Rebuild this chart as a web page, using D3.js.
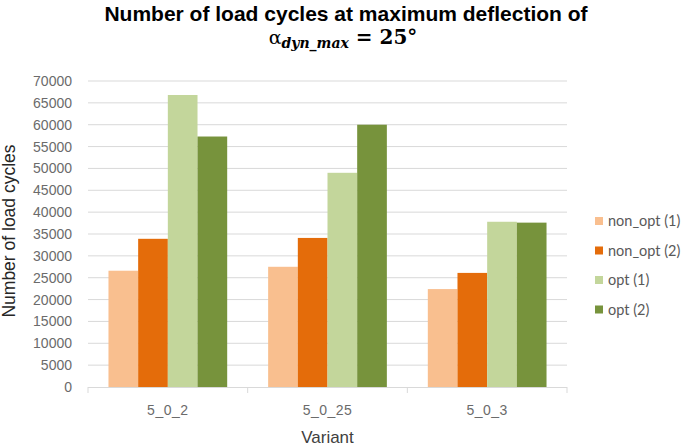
<!DOCTYPE html>
<html>
<head>
<meta charset="utf-8">
<script src="https://cdn.jsdelivr.net/npm/d3@7"></script>
<style>
  body { margin: 0; background: #fff; }
  svg { display: block; }
</style>
</head>
<body>
<svg width="685" height="447"></svg>
<script>
var variants = ["5_0_2", "5_0_25", "5_0_3"];
var seriesNames = ["non_opt (1)", "non_opt (2)", "opt (1)", "opt (2)"];
var nonOpt1 = [26600, 27500, 22400];
var nonOpt2 = [33900, 34100, 26100];
var opt1 = [66800, 49000, 37800];
var opt2 = [57300, 60000, 37600];
var yTicks = d3.range(0, 70001, 5000);
var colors = ["#F9BF8F", "#E46C0A", "#C3D69B", "#77933C"];

var svg = d3.select("svg");
var margin = {left: 88, right: 118, top: 81, bottom: 60};
var width = 685 - margin.left - margin.right,
    height = 447 - margin.top - margin.bottom;

var seriesValues = [nonOpt1, nonOpt2, opt1, opt2];

var x = d3.scaleBand().domain(variants).range([0, width]).paddingInner(0).paddingOuter(0);
var xs = d3.scaleBand().domain(seriesNames).range([0, x.bandwidth()]).paddingOuter(0.69).paddingInner(0);
var y = d3.scaleLinear().domain([0, 70000]).range([height, 0]);

var g = svg.append("g").attr("transform", "translate(" + margin.left + "," + margin.top + ")");

// gridlines
g.selectAll(".grid").data(yTicks.slice(1)).enter().append("line")
    .attr("x1", 0).attr("x2", width)
    .attr("y1", function(d) { return y(d); }).attr("y2", function(d) { return y(d); })
    .attr("stroke", "#d9d9d9").attr("stroke-width", 1);

// y tick labels
g.selectAll(".ylab").data(yTicks).enter().append("text")
    .attr("x", -16).attr("y", function(d) { return y(d) + 5; })
    .attr("text-anchor", "end")
    .attr("font-family", "Liberation Sans, Arial, sans-serif")
    .attr("font-size", "14px").attr("fill", "#6b6b6b")
    .text(function(d) { return d; });

// bars
var groups = g.selectAll(".grp").data(variants).enter().append("g")
    .attr("transform", function(d) { return "translate(" + x(d) + ",0)"; });

groups.selectAll("rect").data(function(d, i) {
    return seriesNames.map(function(s, j) { return {s: s, v: seriesValues[j][i], c: colors[j]}; });
  }).enter().append("rect")
    .attr("x", function(d) { return xs(d.s); })
    .attr("width", xs.bandwidth())
    .attr("y", function(d) { return y(d.v); })
    .attr("height", function(d) { return height - y(d.v); })
    .attr("fill", function(d) { return d.c; });

// x axis
var xAxis = g.append("g").attr("transform", "translate(0," + height + ")");
xAxis.append("line").attr("x1", 0).attr("x2", width).attr("y1", 0.5).attr("y2", 0.5)
    .attr("stroke", "#d9d9d9");
xAxis.selectAll(".tk").data(d3.range(variants.length + 1)).enter().append("line")
    .attr("x1", function(d) { return d * x.step(); }).attr("x2", function(d) { return d * x.step(); })
    .attr("y1", 0).attr("y2", 6).attr("stroke", "#d9d9d9");
xAxis.selectAll(".xlab").data(variants).enter().append("text")
    .attr("x", function(d) { return x(d) + x.bandwidth() / 2; })
    .attr("y", 28)
    .attr("text-anchor", "middle")
    .attr("font-family", "Liberation Sans, Arial, sans-serif")
    .attr("font-size", "14px").attr("fill", "#6b6b6b")
    .attr("letter-spacing", "0.5px")
    .text(function(d) { return d; });

// axis titles
svg.append("text")
    .attr("x", margin.left + width / 2).attr("y", 443)
    .attr("text-anchor", "middle")
    .attr("font-family", "Liberation Sans, Arial, sans-serif")
    .attr("font-size", "17px").attr("fill", "#404040")
    .text("Variant");

svg.append("text")
    .attr("transform", "translate(15," + (margin.top + height / 2 - 3) + ") rotate(-90)")
    .attr("text-anchor", "middle")
    .attr("font-family", "Liberation Sans, Arial, sans-serif")
    .attr("font-size", "17.5px").attr("fill", "#262626")
    .text("Number of load cycles");

// title
svg.append("text")
    .attr("x", 346).attr("y", 21)
    .attr("text-anchor", "middle")
    .attr("font-family", "Liberation Sans, Arial, sans-serif")
    .attr("font-size", "21px").attr("font-weight", "bold").attr("fill", "#000")
    .text("Number of load cycles at maximum deflection of");

var math = svg.append("text")
    .attr("x", 343).attr("y", 44)
    .attr("text-anchor", "middle")
    .attr("font-family", "DejaVu Serif, serif")
    .attr("fill", "#000");
math.append("tspan").attr("font-size", "19px").text("α");
math.append("tspan").attr("font-size", "14px").attr("font-style", "italic").attr("font-weight", "bold")
    .attr("dy", 4).text("dyn_max");
math.append("tspan").attr("font-size", "20px").attr("font-weight", "bold").attr("dy", -4).text(" = 25°");

// legend
var legend = svg.selectAll(".leg").data(seriesNames).enter().append("g")
    .attr("transform", function(d, i) { return "translate(595," + (217 + i * 29.5) + ")"; });
legend.append("rect").attr("width", 8).attr("height", 8)
    .attr("fill", function(d, i) { return colors[i]; });
legend.append("text").attr("x", 13).attr("y", 9)
    .attr("font-family", "Lato, Liberation Sans, sans-serif")
    .attr("font-size", "14.5px").attr("fill", "#595959")
    .text(function(d) { return d; });
</script>
</body>
</html>
